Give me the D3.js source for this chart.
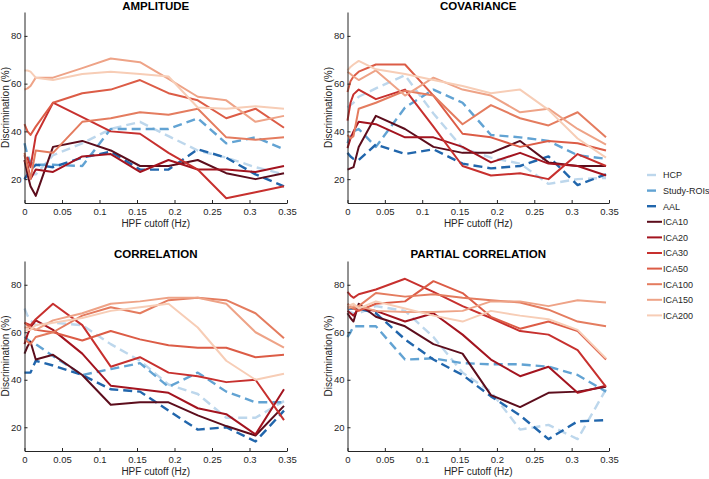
<!DOCTYPE html>
<html><head><meta charset="utf-8">
<script src="https://cdn.jsdelivr.net/npm/d3@7"></script>
<style>
body{margin:0;background:#fff;}
svg{display:block;font-family:"Liberation Sans",Arial,Helvetica,sans-serif;}
</style></head>
<body><svg id="chart" width="709" height="479"></svg>
<script>
const cutoffs = [0, 0.004, 0.008, 0.015, 0.038, 0.077, 0.115, 0.154, 0.192, 0.231, 0.269, 0.308, 0.346];
const seriesNames = ["HCP","Study-ROIs","AAL","ICA10","ICA20","ICA30","ICA50","ICA100","ICA150","ICA200"];
const seriesColors = ["#bdd7ec","#62a3d3","#2166ac","#5c0d1c","#a3141f","#c7302e","#dc5c46","#e47c5f","#eea387","#f7cdb6"];
const seriesDashed = [true,true,true,false,false,false,false,false,false,false];
const xTicks = [0,0.05,0.1,0.15,0.2,0.25,0.3,0.35];
const xTickLabels = ["0","0.05","0.1","0.15","0.2","0.25","0.3","0.35"];
const yTicks = [20,40,60,80];
const panelTitles = ["AMPLITUDE","COVARIANCE","CORRELATION","PARTIAL CORRELATION"];

const amplitudeValues = [
 [28,25,22,22,30,35,41,44,38,32,29,25,22],
 [35,30,27,26,26,25.5,41,41,41,45.5,35,37.5,32.5],
 [20,22,24,26,25,29,31.5,24,24,32.5,29,22,17],
 [28,22,17,13,33.5,36,32,25.5,25.5,28,22.5,20,22.5],
 [30,26,20,24,23,29.5,30.5,23,28,24,24,23,25.5],
 [27,29,25,38,52,46,40,39,31,24,12,14.5,17],
 [43,40,38.5,42,52,56,57.5,61.5,56,53,45.5,49.5,41.5],
 [31,25,20,32,31,44,45.5,48,47,49.5,37.5,36.5,37.5],
 [57.5,58,59,62.5,62.5,66.5,70.5,69,62,54.5,53,44,46.5],
 [65.5,65.5,65,62.5,61.5,64,65,64,63,50,49.5,50.5,49.5]
];
const covarianceValues = [
 [50,51,52,54.5,58,63.5,47.5,33,29,26.5,18,20,20.5],
 [35,38,40,41,33.5,50,57.5,52,38.5,37.5,36,30,28.5],
 [31,29.5,28.5,28,34.5,30.5,32.5,26.5,24.5,25.5,29.5,17.5,22],
 [24,24.5,25,33.5,46.5,41,33.5,31,31,36,27,25.5,25.5],
 [33,37,40,44,43,37.5,37.5,33.5,27,31,26.5,25.5,21.5],
 [44.5,52,55.5,57.5,53.5,57.5,42,25.5,21.5,22.5,20,30.5,25.5],
 [56.5,61,63,65,68,68,55,39,37.5,33.5,36,35,32],
 [38.5,37,38,49.5,52,57,55,43,51,45.5,42.5,48,37.5],
 [65,64,63,61.5,65.5,55,62.5,57.5,55,48,49.5,41,34.5],
 [65.5,67,68,69.5,66,64,61.5,59,56,57.5,49,37,29]
];
const correlationValues = [
 [70,67,65,63,64,63,55,48,38,34,24,24,31],
 [58,57,56,55,50,42,44.5,47,37,43,35,30.5,30.5],
 [43,43,43,48,46,42,36,35,27,19,20,14,27],
 [51,54,56,48.5,50.5,42,29.5,30.5,30.5,25,20.5,16.5,29],
 [55,59,62,65,61,51,37.5,36,34.5,28,25.5,17,36],
 [64,63.5,63,65.5,72,63,45.5,49.5,43,41.5,39,40,23],
 [64,63,62,61,60,56.5,60.5,57,54.5,53.5,53.5,49.5,50.5],
 [57,56,55,58,60,67,70.5,68,73.5,74.5,73.5,68,57.5],
 [62,62,62,61,65,68,72,73,74.5,74.5,72,60,53.5],
 [60.5,61,61,63,64,66,69,70.5,72,62,48,40,42.5]
];
const partialValues = [
 [69,68.5,68,68,71,69,58,43,35,19,21,15,36],
 [58,60,62.5,62.5,62.5,48.5,49,47,46.5,46.5,45.5,42,35],
 [70,70,70,70,68,57,48.5,42,33,25,15,22.5,23],
 [68,66,64.5,72,66.5,62.5,55,51,33.5,28.5,34.5,35,37],
 [69,68,67,70,69,64.5,68,59,48.5,41.5,45.5,34.5,37.5],
 [77,75.5,74.5,76,78,82.5,77,71,66,60.5,59,52.5,37],
 [71,70.5,70,69,72,73,81.5,76.5,66.5,61.5,64.5,60.5,48.5],
 [72,71,70,71,76.5,75,76,74.5,73.5,72.5,69.5,64.5,62.5],
 [70,70.5,71,71,69,68.5,68.5,69,73,73,71,73.5,72.5],
 [71,71.5,72,70,73,70,67,64.5,69,67,65.5,61,49]
];
const panelValues = [amplitudeValues, covarianceValues, correlationValues, partialValues];

const svg = d3.select("#chart");
const axisColor = "#262626";
const panels = [
  {x0:24.5, x1:287, y0:203, y1:12, tb:10},
  {x0:347.5, x1:609, y0:203, y1:12, tb:10},
  {x0:24.5, x1:287, y0:451, y1:261, tb:258},
  {x0:347.5, x1:609, y0:451, y1:261, tb:258}
];

panels.forEach((p, pi) => {
  const x = d3.scaleLinear().domain([0,0.35]).range([p.x0,p.x1]);
  const y = d3.scaleLinear().domain([10,90]).range([p.y0,p.y1]);
  const g = svg.append("g");
  const line = d3.line().x((d,i)=>x(cutoffs[i])).y(d=>y(d));
  panelValues[pi].forEach((vals, si) => {
    g.append("path").datum(vals)
      .attr("d", line)
      .attr("fill","none")
      .attr("stroke", seriesColors[si])
      .attr("stroke-width", seriesDashed[si] ? 2.4 : 2)
      .attr("stroke-dasharray", seriesDashed[si] ? "9,5" : null)
      .attr("stroke-linejoin","round");
  });
  const xa = g.append("g").attr("transform",`translate(0,${p.y0})`)
    .call(d3.axisBottom(x).tickValues(xTicks).tickFormat((d,i)=>xTickLabels[i]).tickSizeInner(-3).tickSizeOuter(0).tickPadding(5));
  const ya = g.append("g").attr("transform",`translate(${p.x0},0)`)
    .call(d3.axisLeft(y).tickValues(yTicks).tickSizeInner(-3).tickSizeOuter(0).tickPadding(3));
  [xa, ya].forEach(a => {
    a.select(".domain").attr("stroke",axisColor).attr("stroke-width",1);
    a.selectAll(".tick line").attr("stroke",axisColor);
    a.selectAll(".tick text").attr("fill",axisColor).attr("font-size","9.5px").attr("font-family",null);
  });
  g.append("text").attr("x",(p.x0+p.x1)/2).attr("y",p.tb)
    .attr("text-anchor","middle").attr("font-weight","bold").attr("font-size","11.5px").attr("fill","#000")
    .text(panelTitles[pi]);
  g.append("text").attr("x",(p.x0+p.x1)/2).attr("y",p.y0+24)
    .attr("text-anchor","middle").attr("font-size","10px").attr("fill",axisColor)
    .text("HPF cutoff (Hz)");
  g.append("text").attr("transform",`translate(${p.x0-16},${(p.y0+p.y1)/2}) rotate(-90)`)
    .attr("text-anchor","middle").attr("font-size","10px").attr("fill",axisColor)
    .text("Discrimination (%)");
});

const legend = svg.append("g");
seriesNames.forEach((name, i) => {
  const cy = 175 + i*15.6;
  legend.append("line")
    .attr("x1",647).attr("x2", seriesDashed[i] ? 656 : 662)
    .attr("y1",cy).attr("y2",cy)
    .attr("stroke",seriesColors[i]).attr("stroke-width", seriesDashed[i] ? 2.4 : 2);
  legend.append("text").attr("x",663).attr("y",cy+3.3)
    .attr("font-size","9px").attr("fill",axisColor).text(name);
});
</script></body></html>
